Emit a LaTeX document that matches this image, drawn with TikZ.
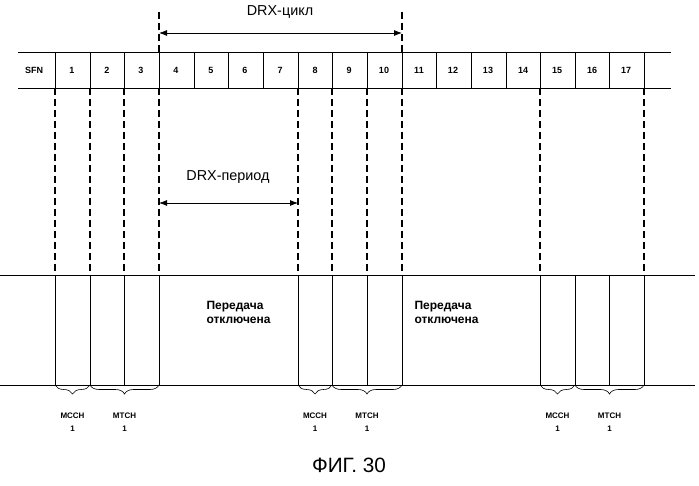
\documentclass[tikz,border=0pt]{standalone}
\usepackage{fontspec}
\setmainfont{Liberation Sans}
\usetikzlibrary{decorations.pathreplacing,arrows.meta}

\begin{document}
\begin{tikzpicture}[x=1pt,y=-1pt,
  cellnum/.style={font=\bfseries\small},
  guide/.style={dashed,dash pattern=on 7pt off 4pt,line width=1.6pt},
  slot/.style={semithick},
  span/.style={{Latex[length=8pt]}-{Latex[length=8pt]},thick},
  chlabel/.style={font=\bfseries\footnotesize,align=center,inner sep=0pt},
  curly/.style={decorate,decoration={brace,mirror,amplitude=9pt},semithick},
  note/.style={font=\bfseries\large,align=left,anchor=north west}]
  \useasboundingbox (0,0) rectangle (699,486);
  % SFN band
  \draw[semithick] (18,52) -- (671,52) (18,88) -- (671,88);
  \node[cellnum] (sfn) at (34,70) {SFN};
  \foreach \x [count=\i] in {55,90,124,159,194,228,263,298,332,367,402,436,471,506,540,575,609,644}
    \draw[semithick] (\x,52) coordinate (t\i) -- (\x,88) coordinate (b\i);
  \foreach \x [count=\i] in {72,107,141,176,211,245,280,315,349,384,419,453,488,523,557,592,626}
    \node[cellnum] (c\i) at (\x,70) {\i};
  % lower band
  \draw[semithick] (0,275) -- (695,275) (0,385) -- (695,385);
  \foreach \x in {55,90,124,159,298,332,367,402,540,575,609,644}
    \draw[slot] (\x,275) -- (\x,385);
  \foreach \x in {55,90,124,159,298,332,367,402,540,644}
    \draw[guide] (\x,88) -- (\x,275);
  % DRX cycle
  \draw[guide] (159,12) -- (159,52) (402,12) -- (402,52);
  \coordinate (cycA) at (159,33);
  \coordinate (cycB) at (402,33);
  \draw[span] (cycA) -- (cycB);
  \node[font=\Large] (cyc) at (280,12) {DRX-цикл};
  % DRX period
  \coordinate (perA) at (159,203);
  \coordinate (perB) at (298,203);
  \draw[span] (perA) -- (perB);
  \node[font=\Large] (per) at (228,177) {DRX-период};
  \node[note] (off1) at (203,298) {Передача\\отключена};
  \node[note] (off2) at (411,298) {Передача\\отключена};
  % channel braces
  \foreach \a/\b/\c in {55/90/124,298/332/367,540/575/609} {
    \draw[curly] (\a,385) -- (\b,385);
    \draw[curly] (\b,385) -- (\c+35,385);
    \node[chlabel] at ({(\a+\b)/2},422) {MCCH\\[4pt]1};
    \node[chlabel] at ({(\b+\c+35)/2},422) {MTCH\\[4pt]1};
  }
  \node[font=\huge] (fig) at (349,465) {ФИГ. 30};
\end{tikzpicture}
\end{document}
